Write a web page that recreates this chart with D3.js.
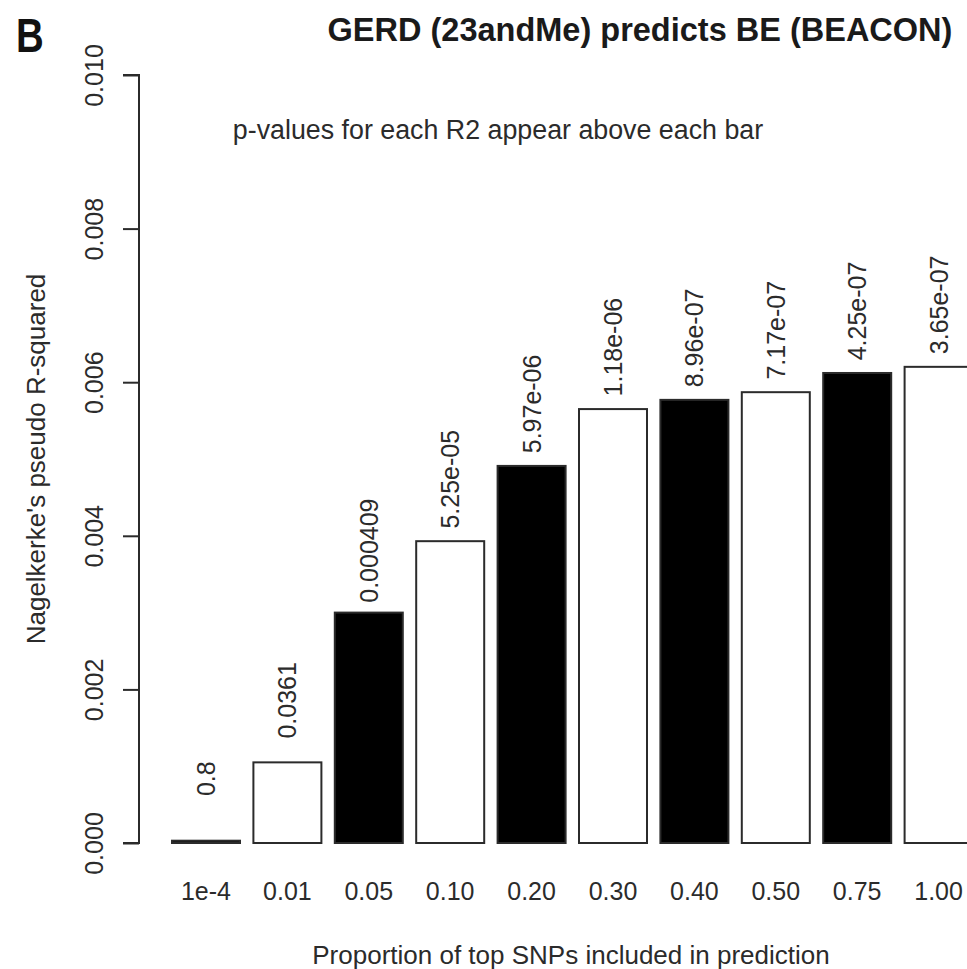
<!DOCTYPE html>
<html>
<head>
<meta charset="utf-8">
<script src="https://cdn.jsdelivr.net/npm/d3@7"></script>
<style>
  html, body { margin: 0; padding: 0; background: #fff; }
  svg { display: block; font-family: "Liberation Sans", Arial, Helvetica, sans-serif; }
</style>
</head>
<body>
<svg id="chart" width="967" height="969"></svg>
<script>
// Thresholds of top SNPs used to build the score
const categories = ["1e-4", "0.01", "0.05", "0.10", "0.20", "0.30", "0.40", "0.50", "0.75", "1.00"];
// Nagelkerke's pseudo R-squared for each threshold
const r2Values = [0.00003, 0.00105, 0.00300, 0.00393, 0.00491, 0.00565, 0.00577, 0.00587, 0.00612, 0.00620];
// p-value printed above each bar
const pLabels = ["0.8", "0.0361", "0.000409", "5.25e-05", "5.97e-06", "1.18e-06", "8.96e-07", "7.17e-07", "4.25e-07", "3.65e-07"];
// Alternating bar fills
const barFills = ["#000", "#fff", "#000", "#fff", "#000", "#fff", "#000", "#fff", "#000", "#fff"];
// Y axis tick values
const yTicks = [0, 0.002, 0.004, 0.006, 0.008, 0.010];

const svg = d3.select("#chart");
const ink = "#2b2b2b";

const y = d3.scaleLinear().domain([0, 0.010]).range([843, 75]);
const step = 81.4, barW = 68;
const x = d3.scaleBand()
  .domain(categories)
  .range([172, 172 + categories.length * step - (step - barW)])
  .paddingInner(1 - barW / step)
  .paddingOuter(0);

// Panel letter
svg.append("text")
  .attr("transform", "translate(16,52) scale(0.8,1)")
  .attr("font-size", 48).attr("font-weight", "bold").attr("fill", "#111")
  .text("B");

// Title
svg.append("text")
  .attr("x", 640).attr("y", 41)
  .attr("text-anchor", "middle")
  .attr("font-size", 32.5).attr("font-weight", "bold").attr("fill", "#1a1a1a")
  .text("GERD (23andMe) predicts BE (BEACON)");

// Note inside the plot
svg.append("text")
  .attr("x", 498).attr("y", y(0.00928) + 9)
  .attr("text-anchor", "middle")
  .attr("font-size", 26.8).attr("fill", ink)
  .text("p-values for each R2 appear above each bar");

// Y axis with rotated tick labels
const yAxis = d3.axisLeft(y)
  .tickValues(yTicks)
  .tickSize(16)
  .tickFormat(d3.format(".3f"));
const gy = svg.append("g").attr("transform", "translate(139,0)").call(yAxis);
gy.select(".domain")
  .attr("d", `M-16,${y(0)}H0V${y(0.010)}H-16`)
  .attr("stroke", ink).attr("stroke-width", 2).attr("fill", "none");
gy.selectAll(".tick line").attr("stroke", ink).attr("stroke-width", 2);
gy.selectAll(".tick text")
  .attr("x", null).attr("y", 0).attr("dy", null)
  .attr("font-size", 25).attr("fill", ink)
  .attr("font-family", "\"Liberation Sans\", Arial, sans-serif")
  .attr("text-anchor", "middle")
  .attr("transform", "translate(-36,0) rotate(-90)");

// Y axis title
svg.append("text")
  .attr("transform", `translate(45,${(y(0) + y(0.010)) / 2}) rotate(-90)`)
  .attr("text-anchor", "middle")
  .attr("font-size", 26).attr("fill", ink)
  .text("Nagelkerke's pseudo R-squared");

// Bars
svg.append("g").selectAll("rect")
  .data(categories)
  .join("rect")
  .attr("x", d => x(d))
  .attr("width", x.bandwidth())
  .attr("y", (d, i) => y(r2Values[i]))
  .attr("height", (d, i) => y(0) - y(r2Values[i]))
  .attr("fill", (d, i) => barFills[i])
  .attr("stroke", ink)
  .attr("stroke-width", 2);

// p-value labels centred a fixed distance above each bar
svg.append("g").selectAll("text")
  .data(categories)
  .join("text")
  .attr("transform", (d, i) => `translate(${x(d) + x.bandwidth() / 2},${y(r2Values[i] + 0.000807)}) rotate(-90)`)
  .attr("text-anchor", "middle")
  .attr("dominant-baseline", "central")
  .attr("font-size", 25).attr("fill", ink)
  .text((d, i) => pLabels[i]);

// Category labels under the bars
svg.append("g").selectAll("text")
  .data(categories)
  .join("text")
  .attr("x", d => x(d) + x.bandwidth() / 2)
  .attr("y", 900)
  .attr("text-anchor", "middle")
  .attr("font-size", 25).attr("fill", ink)
  .text(d => d);

// X axis title
svg.append("text")
  .attr("x", 571).attr("y", 964)
  .attr("text-anchor", "middle")
  .attr("font-size", 26).attr("fill", ink)
  .text("Proportion of top SNPs included in prediction");
</script>
</body>
</html>
